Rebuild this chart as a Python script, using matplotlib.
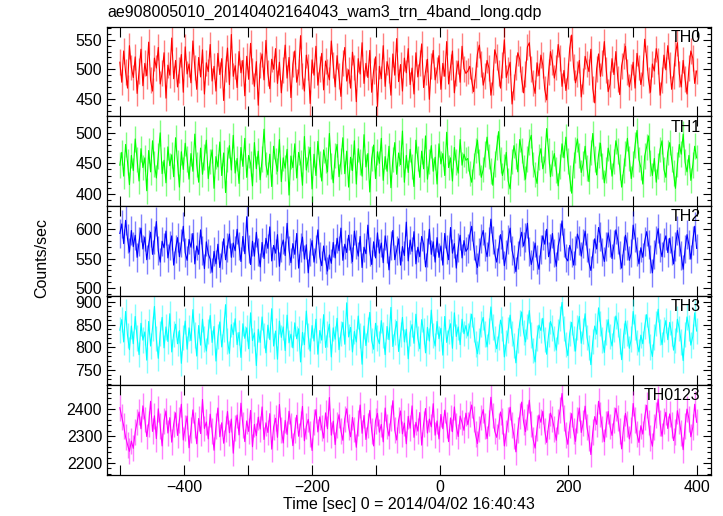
import numpy as np
import matplotlib
matplotlib.use("Agg")
from matplotlib import pyplot as plt
from matplotlib.ticker import MultipleLocator, FuncFormatter

plt.rcParams["font.family"] = ["Liberation Sans", "DejaVu Sans"]

TITLE = "ae908005010_20140402164043_wam3_trn_4band_long.qdp"
XLABEL = "Time [sec] 0 = 2014/04/02 16:40:43"
YLABEL = "Counts/sec"

# time bins (sec)
T_START = -500
T_STEP = 3

bands = ["TH0", "TH1", "TH2", "TH3", "TH0123"]
colors = ["#ff0000", "#00ff00", "#0000ff", "#00ffff", "#ff00ff"]
errs = [22, 21, 24, 28, 48]
ylims = [(420, 572), (380, 527), (488, 638), (717, 914), (2156, 2489)]
ymajor = [50, 50, 50, 50, 100]
yminor = [10, 10, 10, 10, 20]

th0 = [
    512, 478, 531, 495, 468, 540, 503, 486, 521, 459, 497, 534, 472, 510, 489,
    546, 481, 463, 519, 502, 537, 475, 494, 528, 451, 507, 490, 553, 484, 515,
    470, 499, 525, 461, 538, 492, 509, 477, 548, 503, 466, 520, 487, 533, 458,
    511, 496, 542, 480, 505, 463, 527, 491, 518, 447, 501, 536, 474, 559, 488,
    506, 469, 530, 494, 515, 455, 522, 483, 544, 497, 471, 513, 439, 508, 526,
    482, 549, 493, 467, 517, 500, 535, 476, 512, 460, 498, 541, 485, 520, 452,
    509, 531, 478, 495, 557, 488, 463, 524, 504, 442, 516, 490, 539, 473, 501,
    527, 465, 514, 496, 482, 548, 507, 470, 523, 489, 454, 511, 537, 480, 499,
    468, 529, 503, 445, 518, 492, 545, 476, 510, 486, 532, 461, 497, 521, 437,
    505, 484, 540, 471, 513, 498, 456, 526, 490, 552, 479, 508, 463, 519, 494,
    535, 474, 502, 458, 528, 487, 511, 543, 469, 496, 517, 449, 506, 532, 482,
    499, 523, 466, 510, 488, 547, 475, 504, 531, 460, 493, 514, 478, 539, 501,
    493,
    497, 505, 481, 462, 490, 526, 541, 509, 473, 488, 515, 502, 456, 479, 533,
    521, 494, 468, 507, 550, 486, 499, 512, 441, 470, 503, 528, 517, 483, 460,
    492, 538, 545, 501, 476, 459, 511, 489, 524, 507, 466, 448, 495, 530, 512,
    485, 503, 542, 519, 471, 498, 464, 489, 536, 558, 504, 477, 492, 515, 453,
    480, 522, 509, 496, 534, 467, 443, 501, 526, 488, 511, 547, 499, 462, 475,
    518, 491, 530, 484, 457, 506, 523, 539, 496, 470, 487, 512, 468, 527, 503,
    474, 493, 551, 520, 482, 461, 509, 497, 535, 514, 456, 481, 524, 499, 540,
    508, 466, 489, 527, 545, 492, 470, 515, 483, 458, 502, 531, 519, 476, 497,
]
th1 = [
    447, 468, 429, 481, 452, 415, 463, 438, 490, 456, 421, 474, 443, 459, 405,
    471, 436, 487, 449, 426, 462, 500, 433, 455, 418, 477, 446, 464, 428, 492,
    451, 411, 469, 440, 483, 457, 424, 466, 437, 498, 448, 419, 475, 432, 460,
    488, 425, 453, 472, 409, 461, 444, 485, 430, 467, 402, 456, 479, 439, 496,
    434, 458, 417, 476, 445, 491, 427, 463, 450, 413, 484, 441, 470, 423, 457,
    506, 448, 431, 465, 412, 478, 454, 437, 489, 420, 459, 442, 473, 398, 462,
    443, 482, 426, 468, 451, 414, 494, 439, 457, 476, 408, 465, 430, 486, 449,
    421, 472, 455, 436, 499, 446, 418, 463, 481, 428, 454, 492, 433, 470, 411,
    460, 438, 487, 416, 474, 452, 429, 497, 444, 466, 403, 458, 480, 425, 469,
    450, 491, 422, 461, 437, 478, 410, 456, 484, 432, 467, 448, 503, 419, 463,
    435, 473, 445, 412, 488, 458, 427, 470, 441, 495, 424, 453, 479, 437, 460,
    416, 482, 449, 466, 430, 501, 443, 459, 421, 476, 452, 434, 489, 447, 465,
    455,
    458, 433, 419, 446, 471, 488, 452, 427, 440, 465, 493, 461, 437, 414, 449,
    476, 502, 455, 430, 444, 468, 421, 408, 453, 479, 462, 436, 489, 471, 443,
    424, 457, 485, 496, 448, 432, 417, 460, 474, 441, 455, 507, 470, 428, 451,
    466, 439, 413, 445, 482, 459, 493, 454, 426, 401, 447, 472, 490, 463, 435,
    450, 478, 442, 420, 468, 499, 457, 431, 464, 483, 446, 418, 439, 475, 461,
    429, 453, 487, 470, 444, 411, 438, 466, 491, 458, 425, 449, 480, 504, 456,
    443, 416, 462, 477, 495, 451, 430, 458, 419, 446, 473, 487, 440, 427, 468,
    484, 457, 434, 409, 448, 481, 465, 498, 452, 436, 463, 422, 447, 478, 459,
]
th2 = [
    592, 608, 575, 614, 583, 561, 597, 570, 589, 552, 578, 601, 566, 586, 548,
    573, 594, 557, 581, 612, 563, 544, 579, 568, 596, 551, 572, 588, 539, 566,
    585, 553, 576, 604, 560, 547, 582, 569, 592, 541, 571, 557, 598, 564, 533,
    578, 558, 549, 527, 562, 541, 574, 535, 556, 583, 548, 569, 591, 552, 576,
    563, 599, 571, 545, 587, 558, 620, 566, 540, 579, 554, 594, 561, 536, 577,
    550, 584, 567, 603, 546, 572, 559, 590, 537, 568, 581, 555, 609, 564, 543,
    575, 557, 592, 534, 569, 586, 549, 573, 526, 561, 580, 544, 566, 598, 553,
    538, 571, 548, 529, 556, 542, 577, 551, 584, 563, 601, 547, 574, 560, 589,
    567, 545, 596, 573, 554, 587, 535, 569, 558, 606, 562, 540, 578, 551, 593,
    559, 576, 543, 588, 566, 531, 572, 597, 548, 564, 583, 539, 570, 555, 611,
    546, 581, 562, 595, 541, 569, 553, 587, 574, 536, 560, 599, 557, 578, 544,
    585, 552, 571, 539, 592, 565, 548, 602, 559, 575, 534, 568, 589, 551, 580,
    562,
    567, 589, 604, 572, 548, 535, 561, 584, 597, 570, 553, 578, 616, 581, 558,
    544, 566, 590, 573, 538, 557, 582, 601, 564, 549, 528, 556, 579, 594, 571,
    585, 609, 562, 540, 555, 576, 548, 532, 565, 588, 574, 599, 553, 567, 592,
    559, 537, 571, 586, 613, 577, 551, 546, 572, 560, 539, 563, 591, 580, 554,
    575, 596, 568, 543, 530, 558, 583, 566, 602, 587, 561, 545, 570, 593, 576,
    550, 573, 598, 581, 556, 534, 564, 589, 571, 547, 559, 606, 585, 562, 541,
    568, 552, 579, 595, 574, 549, 526, 557, 581, 600, 569, 553, 577, 588, 560,
    584, 563, 541, 570, 597, 578, 555, 532, 566, 590, 573, 549, 580, 604, 567,
]
th3 = [
    838, 861, 812, 879, 826, 795, 847, 808, 868, 821, 784, 853, 816, 834, 772,
    857, 803, 842, 890, 819, 776, 831, 866, 799, 845, 813, 874, 790, 829, 851,
    808, 837, 765, 822, 858, 796, 843, 815, 883, 827, 781, 848, 805, 862, 818,
    792, 835, 870, 811, 846, 770, 824, 856, 801, 839, 894, 814, 787, 850, 828,
    863, 806, 833, 778, 852, 820, 843, 797, 876, 815, 832, 760, 840, 811, 867,
    826, 788, 849, 817, 885, 803, 836, 774, 858, 822, 845, 793, 871, 810, 829,
    799, 854, 819, 841, 768, 833, 806, 880, 825, 792, 848, 814, 862, 785, 837,
    816, 872, 800, 829, 851, 779, 843, 818, 864, 795, 831, 855, 807, 898, 823,
    844, 790, 835, 812, 869, 826, 763, 847, 804, 839, 877, 815, 796, 853, 821,
    808, 859, 827, 784, 846, 817, 888, 802, 834, 857, 791, 828, 866, 812, 840,
    775, 832, 850, 809, 873, 820, 797, 861, 836, 788, 844, 814, 882, 826, 803,
    857, 819, 842, 783, 868, 811, 835, 852, 798, 876, 824, 845, 806, 862, 830,
    848,
    825, 848, 873, 839, 807, 786, 814, 851, 866, 829, 801, 836, 889, 845, 818,
    797, 823, 860, 842, 779, 810, 838, 871, 830, 804, 766, 815, 854, 878, 833,
    812, 846, 881, 827, 793, 768, 821, 849, 837, 864, 817, 785, 828, 857, 843,
    820, 794, 835, 863, 899, 841, 806, 782, 831, 855, 819, 792, 844, 868, 809,
    836, 874, 822, 800, 762, 813, 847, 829, 887, 852, 816, 789, 834, 861, 824,
    803, 840, 869, 850, 814, 773, 826, 858, 832, 798, 818, 879, 845, 811, 790,
    827, 808, 846, 872, 838, 801, 780, 823, 853, 884, 834, 806, 839, 859, 817,
    855, 831, 794, 815, 862, 841, 812, 771, 828, 867, 843, 805, 824, 876, 836,
]
th0123 = [
    2405, 2372, 2338, 2296, 2268, 2243, 2281, 2254, 2315, 2352, 2389, 2327, 2412, 2361, 2298,
    2346, 2429, 2317, 2375, 2290, 2401, 2338, 2263, 2357, 2393, 2311, 2368, 2277, 2344, 2386,
    2302, 2359, 2418, 2285, 2331, 2374, 2256, 2322, 2397, 2341, 2271, 2365, 2309, 2436, 2328,
    2352, 2289, 2381, 2318, 2247, 2336, 2404, 2297, 2349, 2273, 2325, 2391, 2312, 2363, 2236,
    2331, 2378, 2304, 2422, 2340, 2279, 2356, 2317, 2395, 2260, 2343, 2301, 2370, 2326, 2408,
    2287, 2349, 2313, 2383, 2251, 2334, 2366, 2295, 2417, 2323, 2274, 2358, 2306, 2392, 2339,
    2264, 2321, 2377, 2299, 2345, 2410, 2282, 2336, 2362, 2308, 2246, 2353, 2398, 2315, 2371,
    2330, 2292, 2386, 2327, 2443, 2303, 2355, 2268, 2341, 2379, 2319, 2284, 2364, 2401, 2333,
    2297, 2369, 2324, 2258, 2347, 2415, 2310, 2376, 2287, 2339, 2395, 2320, 2263, 2357, 2384,
    2314, 2343, 2278, 2404, 2335, 2300, 2366, 2431, 2322, 2285, 2359, 2393, 2308, 2348, 2271,
    2373, 2329, 2412, 2295, 2351, 2318, 2387, 2266, 2345, 2402, 2311, 2363, 2334, 2420, 2303,
    2356, 2289, 2380, 2327, 2396, 2342, 2279, 2367, 2316, 2408, 2337, 2298, 2374, 2350, 2321,
    2385,
    2342, 2381, 2415, 2364, 2306, 2272, 2325, 2369, 2398, 2337, 2290, 2348, 2444, 2376, 2318,
    2295, 2336, 2389, 2357, 2263, 2312, 2361, 2407, 2341, 2300, 2241, 2322, 2373, 2426, 2352,
    2316, 2370, 2433, 2345, 2286, 2255, 2329, 2378, 2351, 2392, 2320, 2276, 2338, 2385, 2362,
    2327, 2284, 2354, 2397, 2458, 2366, 2305, 2269, 2340, 2383, 2319, 2280, 2359, 2404, 2313,
    2349, 2411, 2332, 2293, 2231, 2315, 2372, 2343, 2429, 2380, 2326, 2279, 2346, 2391, 2335,
    2302, 2358, 2403, 2367, 2318, 2252, 2331, 2384, 2344, 2289, 2323, 2421, 2360, 2307, 2276,
    2338, 2307, 2371, 2414, 2350, 2294, 2262, 2333, 2379, 2437, 2347, 2299, 2355, 2388, 2328,
    2382, 2340, 2283, 2314, 2394, 2356, 2311, 2249, 2337, 2400, 2364, 2297, 2332, 2418, 2351,
]
series = [th0, th1, th2, th3, th0123]


def main() -> None:
    fig, axes = plt.subplots(5, 1, sharex=True, figsize=(7.23, 5.16), dpi=100)
    fig.subplots_adjust(left=0.148, right=0.983, top=0.948, bottom=0.080, hspace=0)

    for ax, name, col, err, ys, lim, mj, mn in zip(
            axes, bands, colors, errs, series, ylims, ymajor, yminor):
        y = np.array(ys, dtype=float)
        t = T_START + T_STEP * np.arange(len(y))
        # pale error bars under the rate curve
        ax.errorbar(t, y, yerr=err, fmt="none", ecolor=col, alpha=0.5, lw=1.0)
        ax.plot(t, y, color=col, lw=0.8)
        ax.set_ylim(*lim)
        ax.yaxis.set_major_locator(MultipleLocator(mj))
        ax.yaxis.set_minor_locator(MultipleLocator(mn))
        ax.xaxis.set_major_locator(MultipleLocator(100))
        ax.tick_params(which="both", direction="in", top=True, right=True,
                       labelsize=11.5, width=0.8)
        ax.tick_params(which="major", length=6)
        ax.tick_params(which="minor", length=3)
        ax.tick_params(axis="x", which="major", length=7)
        for s in ax.spines.values():
            s.set_linewidth(0.9)
        ax.text(0.983, 0.965, name, transform=ax.transAxes, ha="right",
                va="top", fontsize=11.5)

    axes[-1].set_xlim(-520, 422)
    axes[-1].xaxis.set_major_formatter(
        FuncFormatter(lambda v, p: f"{v:.0f}".replace("-", "\u2212")
                      if round(v) % 200 == 0 else ""))
    axes[-1].set_xlabel(XLABEL, fontsize=11.5, labelpad=2)
    fig.text(0.058, 0.5, YLABEL, rotation=90, ha="center", va="center",
             fontsize=11.5)
    fig.text(0.148, 0.975, TITLE, ha="left", va="center", fontsize=11.5)

    fig.savefig("out.png", dpi=100)


if __name__ == "__main__":
    main()
